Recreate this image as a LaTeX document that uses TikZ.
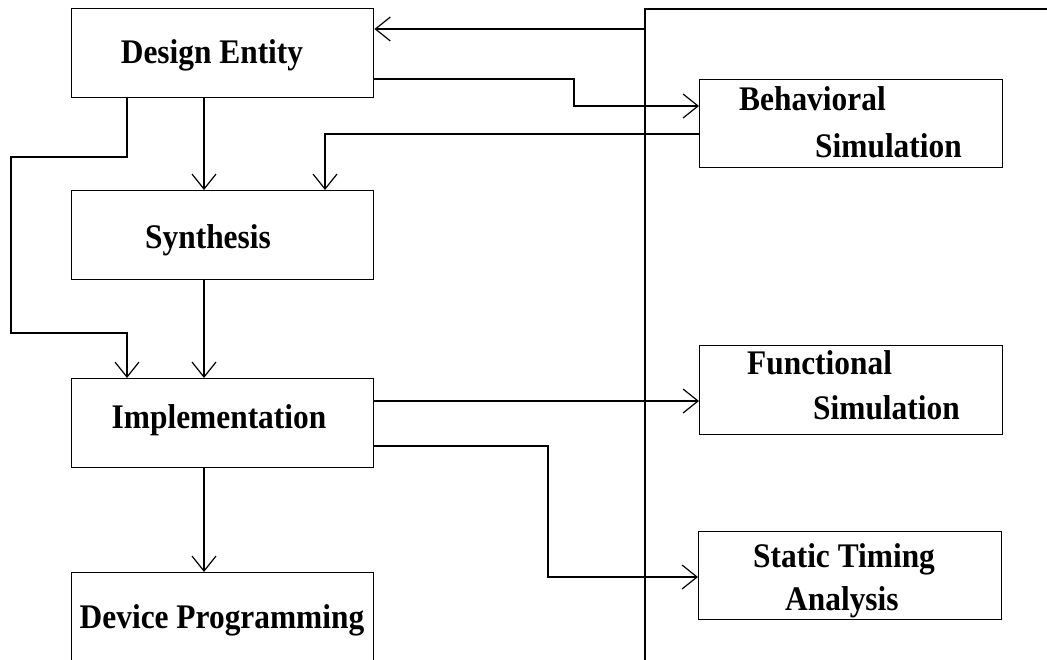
\documentclass[tikz,border=0pt]{standalone}
\usepackage{fontspec}
\newfontfamily\labfont{Liberation Serif}[FakeStretch=0.91]
\usetikzlibrary{arrows.meta}
\tikzset{
  box/.style={draw, line width=1.4pt, rectangle, inner sep=0pt, minimum width=302pt, minimum height=89pt, anchor=north west},
  lab/.style={font=\labfont\bfseries\fontsize{34.5}{38}\selectfont, inner sep=0pt},
  wire/.style={line width=1.2pt},
  flow/.style={wire, -{Straight Barb[length=15pt,width=24pt,line width=1.2pt]}}
}
\begin{document}
\begin{tikzpicture}[x=1pt,y=-1pt]
\useasboundingbox (0,0) rectangle (1047,659);
\clip (0,0) rectangle (1047,659);

% flow boxes (left column)
\node[box] (entity) at (71,8) {};
\node[box] (synth) at (71,190) {};
\node[box] (impl) at (71,378) {};
\node[box, minimum height=120pt] (prog) at (71,572) {};

% simulation / analysis boxes (right column)
\node[box, minimum width=303pt, minimum height=88pt] (behav) at (699,79) {};
\node[box, minimum width=303pt, minimum height=89pt] (func) at (699,345) {};
\node[box, minimum width=303pt, minimum height=88pt] (sta) at (698,531) {};

% labels
\node[lab, anchor=base] (tEntity) at (212,63) {Design Entity};
\node[lab, anchor=base] (tSynth) at (208,248) {Synthesis};
\node[lab, anchor=base] (tImpl) at (219,428) {Implementation};
\node[lab, anchor=base] (tProg) at (222,628) {Device Programming};
\node[lab, anchor=base west] (tBehav1) at (739,110) {Behavioral};
\node[lab, anchor=base west] (tBehav2) at (815,157) {Simulation};
\node[lab, anchor=base west] (tFunc1) at (747,374) {Functional};
\node[lab, anchor=base west] (tFunc2) at (813,419) {Simulation};
\node[lab, anchor=base west] (tSta1) at (753,567) {Static Timing};
\node[lab, anchor=base west] (tSta2) at (785,610) {Analysis};

% vertical bus on the right
\coordinate (busTop) at (645,9);
\coordinate (busEnd) at (1060,9);
\coordinate (busBot) at (645,670);
\draw[wire] (busBot) -- (busTop) -- (busEnd);

% feedback into the design entity
\coordinate (fbStart) at (645,29);
\draw[flow] (fbStart) -- (entity.east |- fbStart);

% design entity to behavioral simulation
\draw[flow] (entity.east |- 0,79) -- (574,79) -- (574,106) -- (behav.west |- 0,106);

% behavioral simulation back to synthesis
\draw[flow] (behav.west |- 0,134) -- (325,134) -- (synth.north -| 325,0);

% straight down the left column
\draw[flow] (entity.south -| 204,0) -- (synth.north -| 204,0);
\draw[flow] (synth.south -| 204,0) -- (impl.north -| 204,0);
\draw[flow] (impl.south -| 204,0) -- (prog.north -| 204,0);

% bypass from design entity to implementation
\draw[flow] (entity.south -| 127,0) -- (127,157) -- (11,157) -- (11,333) -- (127,333) -- (impl.north -| 127,0);

% implementation to functional simulation and timing analysis
\draw[flow] (impl.east |- 0,401) -- (func.west |- 0,401);
\draw[flow] (impl.east |- 0,446) -- (548,446) -- (548,577) -- (sta.west |- 0,577);
\end{tikzpicture}
\end{document}
